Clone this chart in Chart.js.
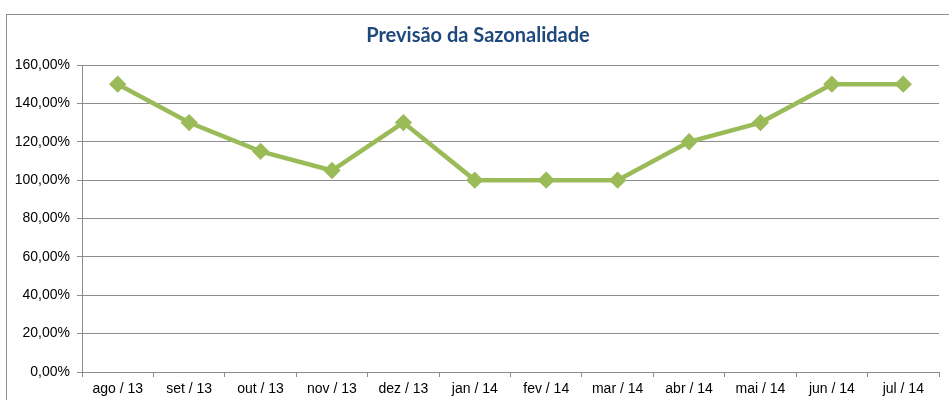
<!DOCTYPE html>
<html>
<head>
<meta charset="utf-8">
<script src="https://cdn.jsdelivr.net/npm/chart.js@4"></script>
<style>
	body { margin: 0; overflow: hidden; background: #fff; }
	#frame { position: absolute; left: 6px; top: 14px; width: 1000px; height: 1000px; border: 1px solid #8f8f8f; }
	#wrap { position: absolute; left: 0; top: 0; width: 949px; height: 400px; }
</style>
</head>
<body>
<div id="frame"></div>
<div id="wrap"><canvas id="chart"></canvas></div>
<script>
const meses = ["ago / 13", "set / 13", "out / 13", "nov / 13", "dez / 13", "jan / 14",
	"fev / 14", "mar / 14", "abr / 14", "mai / 14", "jun / 14", "jul / 14"];
const sazonalidade = [150, 130, 115, 105, 130, 100, 100, 100, 120, 130, 150, 150];
const titulo = "Previsão da Sazonalidade";

const GRID = "#8c8c8c";
const VERDE = "#9bbb59";

const formatPct = (v) => v.toFixed(2).replace(".", ",") + "%";

const context = document.getElementById("chart").getContext("2d");

const chart = new Chart(context, {
	type: "line",
	data: {
		labels: meses,
		datasets: [
			{
				label: "Sazonalidade",
				data: sazonalidade,
				borderColor: VERDE,
				backgroundColor: VERDE,
				borderWidth: 4.5,
				pointStyle: "rectRot",
				pointRadius: 5.5,
				pointHoverRadius: 5.5,
				tension: 0,
			},
		],
	},
	options: {
		responsive: true,
		maintainAspectRatio: false,
		animation: false,
		layout: { padding: { left: 10, right: 3, top: 0, bottom: 0 } },
		plugins: {
			legend: { display: false },
			tooltip: { enabled: false },
			title: {
				display: true,
				text: titulo,
				color: "#1f497d",
				font: { family: "Lato", size: 20, weight: "bold" },
				padding: { top: 24, bottom: 17 },
			},
		},
		scales: {
			x: {
				offset: true,
				grid: {
					display: true,
					drawOnChartArea: false,
					drawTicks: true,
					tickLength: 5,
					color: GRID,
					offset: true,
				},
				border: { color: GRID },
				ticks: {
					color: "#000",
					font: { family: "Liberation Sans", size: 14 },
					padding: 4,
					maxRotation: 0,
					autoSkip: false,
				},
				afterFit: (axis) => { axis.height = 28; },
			},
			y: {
				min: 0,
				max: 160,
				ticks: {
					stepSize: 20,
					color: "#000",
					font: { family: "Liberation Sans", size: 14 },
					padding: 7,
					callback: (v) => formatPct(v),
				},
				grid: { color: GRID, tickLength: 5 },
				border: { color: GRID },
				afterFit: (axis) => { axis.width = 72; },
			},
		},
	},
});
</script>
</body>
</html>
